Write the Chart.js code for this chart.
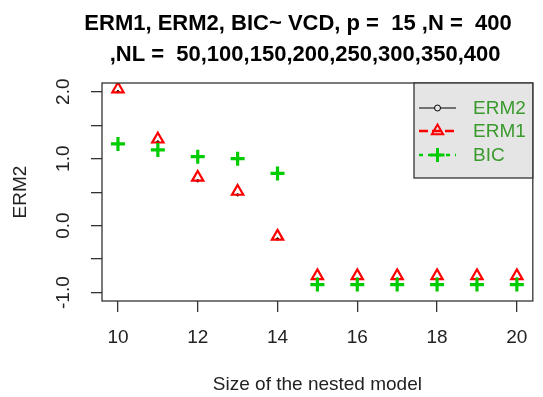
<!DOCTYPE html>
<html>
<head>
<meta charset="utf-8">
<script src="https://cdn.jsdelivr.net/npm/chart.js@4.4.0/dist/chart.umd.min.js"></script>
<style>
  body { margin: 0; background: #fff; }
  canvas { display: block; }
</style>
</head>
<body>
<canvas id="grafico" width="543" height="397"></canvas>
<script>
// dados
const tamanhos = [10, 11, 12, 13, 14, 15, 16, 17, 18, 19, 20];
const erm1 = [2.04, 1.29, 0.72, 0.51, -0.16, -0.75, -0.75, -0.75, -0.75, -0.75, -0.75];
const erm2 = [2.0, 1.25, 0.67, 0.46, -0.2, -0.8, -0.8, -0.8, -0.8, -0.8, -0.8];
const bic = [1.22, 1.13, 1.03, 1.0, 0.78, -0.88, -0.88, -0.88, -0.88, -0.88, -0.88];
const ticksX = [10, 12, 14, 16, 18, 20];
const ticksY = [-1, -0.5, 0, 0.5, 1, 1.5, 2];
const titulo = ['ERM1, ERM2, BIC~ VCD, p =  15 ,N =  400', ' ,NL =  50,100,150,200,250,300,350,400'];

const fonte = 'Liberation Sans, Arial, sans-serif';
const verde = '#00cc00';
const corTexto = '#222';

function pontos(valores) {
    return tamanhos.map((t, i) => ({ x: t, y: valores[i] }));
}

// título, caixa do gráfico e legenda
const extras = {
    id: 'extras',
    afterDraw(chart) {
        const ctx = chart.ctx;
        const area = chart.chartArea;
        ctx.save();

        // caixa em volta da área do gráfico
        ctx.strokeStyle = '#333';
        ctx.lineWidth = 1.3;
        ctx.strokeRect(area.left, area.top, area.right - area.left, area.bottom - area.top);

        // título em duas linhas
        ctx.fillStyle = '#000';
        ctx.font = 'bold 22px ' + fonte;
        ctx.textAlign = 'center';
        ctx.textBaseline = 'alphabetic';
        ctx.fillText(titulo[0], 298, 30);
        ctx.fillText(titulo[1], 302, 61);

        // legenda
        const lx = 414, ly = area.top, lw = area.right - 414, lh = 95;
        ctx.fillStyle = '#e5e5e5';
        ctx.fillRect(lx, ly, lw, lh);
        ctx.strokeStyle = '#333';
        ctx.lineWidth = 1.3;
        ctx.strokeRect(lx, ly, lw, lh);

        const itens = [
            { nome: 'ERM2', cor: '#000', estilo: 'circle', raio: 3, traco: [], largura: 1, y: 108 },
            { nome: 'ERM1', cor: '#ff0000', estilo: 'triangle', raio: 6.5, traco: [9, 4], largura: 2, y: 131 },
            { nome: 'BIC', cor: verde, estilo: 'cross', raio: 7, traco: [4, 5], largura: 3, y: 155 }
        ];
        itens.forEach(item => {
            ctx.strokeStyle = item.cor;
            ctx.lineWidth = item.largura === 1 ? 1.2 : 2.5;
            ctx.setLineDash(item.traco);
            ctx.beginPath();
            ctx.moveTo(419, item.y);
            ctx.lineTo(456, item.y);
            ctx.stroke();
            ctx.setLineDash([]);
            ctx.fillStyle = item.estilo === 'circle' ? '#e5e5e5' : 'rgba(0,0,0,0)';
            ctx.lineWidth = item.largura;
            Chart.helpers.drawPoint(ctx, { pointStyle: item.estilo, radius: item.raio, borderWidth: item.largura, rotation: 0 }, 437.5, item.y);
            ctx.fillStyle = '#3a9a2e';
            ctx.font = '19px ' + fonte;
            ctx.textAlign = 'left';
            ctx.textBaseline = 'middle';
            ctx.fillText(item.nome, 473, item.y + 1);
        });
        ctx.restore();
    }
};

new Chart(document.getElementById('grafico'), {
    type: 'scatter',
    data: {
        datasets: [
            {
                label: 'ERM2',
                data: pontos(erm2),
                pointStyle: 'circle',
                pointRadius: 1.2,
                borderColor: '#000',
                backgroundColor: '#000',
                borderWidth: 1,
                order: 3
            },
            {
                label: 'ERM1',
                data: pontos(erm1),
                pointStyle: 'triangle',
                pointRadius: 6.5,
                borderColor: '#ff0000',
                backgroundColor: 'rgba(0,0,0,0)',
                borderWidth: 2.2,
                order: 2
            },
            {
                label: 'BIC',
                data: pontos(bic),
                pointStyle: 'cross',
                pointRadius: 7,
                borderColor: verde,
                backgroundColor: verde,
                borderWidth: 3.2,
                order: 1
            }
        ]
    },
    options: {
        responsive: false,
        animation: false,
        layout: { padding: { top: 83, right: 7, left: 0, bottom: 0 } },
        plugins: {
            legend: { display: false },
            tooltip: { enabled: false }
        },
        scales: {
            x: {
                type: 'linear',
                min: 9.6,
                max: 20.4,
                afterBuildTicks: scale => { scale.ticks = ticksX.map(v => ({ value: v })); },
                afterFit: scale => { scale.height = 96; },
                border: { display: false },
                grid: { drawOnChartArea: false, drawTicks: true, tickLength: 11, color: '#333', lineWidth: 1.3 },
                ticks: {
                    autoSkip: false,
                    maxRotation: 0,
                    padding: 14,
                    color: corTexto,
                    font: { family: fonte, size: 19 }
                },
                title: {
                    display: true,
                    text: 'Size of the nested model',
                    color: corTexto,
                    font: { family: fonte, size: 19 },
                    padding: { top: 0, bottom: 1 }
                }
            },
            y: {
                min: -1.125,
                max: 2.13,
                afterBuildTicks: scale => { scale.ticks = ticksY.map(v => ({ value: v })); },
                afterFit: scale => { scale.width = 102; },
                border: { display: false },
                grid: { drawOnChartArea: false, drawTicks: true, tickLength: 11, color: '#333', lineWidth: 1.3 },
                ticks: {
                    autoSkip: false,
                    minRotation: 90,
                    maxRotation: 90,
                    crossAlign: 'center',
                    padding: 11,
                    color: corTexto,
                    font: { family: fonte, size: 19 },
                    callback: v => Number.isInteger(v) ? v.toFixed(1) : ''
                },
                title: {
                    display: true,
                    text: 'ERM2',
                    color: corTexto,
                    font: { family: fonte, size: 19 },
                    padding: { top: 9, bottom: 0 }
                }
            }
        }
    },
    plugins: [extras]
});
</script>
</body>
</html>
